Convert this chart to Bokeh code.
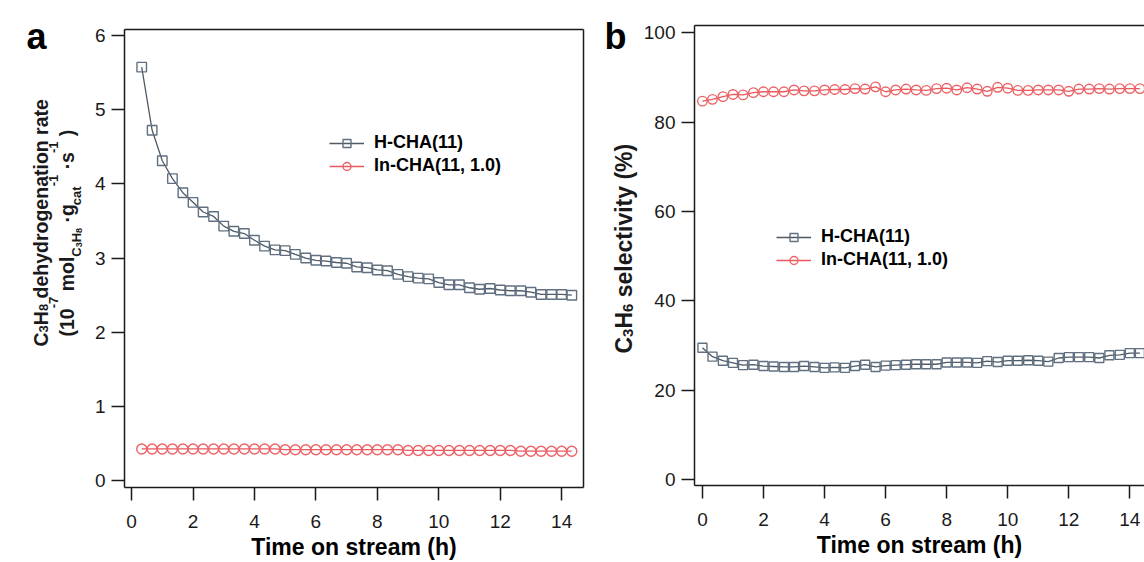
import math
from bokeh.plotting import figure
from bokeh.layouts import row
from bokeh.models import Range1d, FixedTicker, LinearAxis, Legend, LegendItem
from bokeh.core.properties import value
from bokeh.embed import file_html
from bokeh.resources import INLINE

# ---------------- data ----------------
time_a = [0.33, 0.67, 1.00, 1.33, 1.67, 2.00, 2.33, 2.67, 3.00, 3.33, 3.67, 4.00, 4.33, 4.67,
          5.00, 5.33, 5.67, 6.00, 6.33, 6.67, 7.00, 7.33, 7.67, 8.00, 8.33, 8.67, 9.00, 9.33,
          9.67, 10.00, 10.33, 10.67, 11.00, 11.33, 11.67, 12.00, 12.33, 12.67, 13.00, 13.33,
          13.67, 14.00, 14.33]
rate_h = [5.57, 4.72, 4.31, 4.07, 3.88, 3.75, 3.62, 3.56, 3.43, 3.36, 3.33, 3.24, 3.16, 3.11,
          3.10, 3.05, 3.00, 2.97, 2.96, 2.94, 2.93, 2.88, 2.87, 2.84, 2.83, 2.78, 2.75, 2.73,
          2.72, 2.67, 2.64, 2.64, 2.60, 2.58, 2.59, 2.57, 2.56, 2.56, 2.54, 2.51, 2.51, 2.51, 2.50]
rate_in = [0.43, 0.43, 0.43, 0.43, 0.43, 0.43, 0.43, 0.43, 0.43, 0.43, 0.43, 0.43, 0.43, 0.43,
           0.42, 0.42, 0.42, 0.42, 0.42, 0.42, 0.42, 0.42, 0.42, 0.42, 0.42, 0.42, 0.41, 0.41,
           0.41, 0.41, 0.41, 0.41, 0.41, 0.41, 0.41, 0.41, 0.41, 0.40, 0.40, 0.40, 0.40, 0.40, 0.40]

time_b = [0.00, 0.33, 0.67, 1.00, 1.33, 1.67, 2.00, 2.33, 2.67, 3.00, 3.33, 3.67, 4.00, 4.33,
          4.67, 5.00, 5.33, 5.67, 6.00, 6.33, 6.67, 7.00, 7.33, 7.67, 8.00, 8.33, 8.67, 9.00,
          9.33, 9.67, 10.00, 10.33, 10.67, 11.00, 11.33, 11.67, 12.00, 12.33, 12.67, 13.00,
          13.33, 13.67, 14.00, 14.33]
sel_h = [29.5, 27.5, 26.6, 26.1, 25.6, 25.7, 25.4, 25.3, 25.2, 25.2, 25.4, 25.2, 25.0, 25.1,
         25.0, 25.4, 25.7, 25.2, 25.5, 25.6, 25.7, 25.8, 25.8, 25.8, 26.2, 26.2, 26.2, 26.1,
         26.5, 26.3, 26.6, 26.6, 26.7, 26.6, 26.4, 27.2, 27.4, 27.4, 27.4, 27.2, 27.8, 27.9,
         28.3, 28.3]
sel_in = [84.7, 85.1, 85.7, 86.2, 86.1, 86.6, 86.8, 86.8, 86.8, 87.2, 87.0, 87.0, 87.2, 87.3,
          87.3, 87.5, 87.4, 87.9, 86.8, 87.2, 87.4, 87.2, 87.1, 87.5, 87.6, 87.2, 87.7, 87.4,
          86.9, 87.8, 87.6, 87.1, 87.1, 87.2, 87.2, 87.2, 86.9, 87.4, 87.4, 87.5, 87.4, 87.5,
          87.5, 87.5]

x_ticks = [0, 2, 4, 6, 8, 10, 12, 14]
ya_ticks = [0, 1, 2, 3, 4, 5, 6]
yb_ticks = [0, 20, 40, 60, 80, 100]
series_names = ["H-CHA(11)", "In-CHA(11, 1.0)"]
x_title = "Time on stream (h)"

# ---------------- style ----------------
GRAY_LINE = "#4e5a65"
GRAY_MARK = "#607080"
RED_LINE = "#e8585c"
RED_MARK = "#ec6266"
AX = "#1a1a1a"
FONT = "Liberation Sans"
H = 562

W = {'C': .722, 'H': .722, 'd': .611, 'e': .556, 'h': .611, 'y': .556, 'r': .389, 'o': .611,
     'g': .611, 'n': .611, 'a': .556, 't': .333, 'i': .278, ' ': .278, '(': .333, ')': .333,
     '-': .333, 'm': .889, 'l': .278, '\u00b7': .278, 'c': .556, 's': .556, 'v': .556, '%': .889}


def tw(s, size):
    return sum(W.get(c, .556) for c in s) * size


def no_align(p):
    try:
        p.frame_align = False
    except Exception:
        pass


def style_axis(ax, ticks, standoff):
    ax.ticker = FixedTicker(ticks=ticks)
    ax.axis_line_color = AX
    ax.axis_line_width = 1.5
    ax.major_tick_line_color = AX
    ax.major_tick_line_width = 1.5
    ax.major_tick_out = 13
    ax.major_tick_in = 0
    ax.minor_tick_line_color = None
    ax.major_label_text_font = FONT
    ax.major_label_text_font_size = "19px"
    ax.major_label_text_color = AX
    ax.major_label_standoff = standoff


def style_title(ax):
    ax.axis_label = x_title
    ax.axis_label_text_font = FONT
    ax.axis_label_text_font_style = "bold"
    ax.axis_label_text_font_size = "23px"
    ax.axis_label_text_color = "black"
    ax.axis_label_standoff = 3


def frame_axis(p, side):
    ax = LinearAxis(ticker=FixedTicker(ticks=[]), axis_line_color=AX, axis_line_width=1.5,
                    major_tick_line_color=None, minor_tick_line_color=None,
                    major_label_text_font_size="0px")
    p.add_layout(ax, side)


def make_fig(width, xr, yr, left, right, top, bottom):
    p = figure(width=width, height=H, x_range=Range1d(*xr), y_range=Range1d(*yr),
               output_backend="svg", toolbar_location=None,
               min_border_left=left, min_border_right=right,
               min_border_top=top, min_border_bottom=bottom)
    no_align(p)
    p.grid.visible = False
    p.outline_line_color = None
    p.background_fill_color = "white"
    p.border_fill_color = "white"
    return p


def label_fig(width):
    p = figure(width=width, height=H, x_range=Range1d(0, width), y_range=Range1d(0, H),
               output_backend="svg", toolbar_location=None, x_axis_location=None,
               y_axis_location=None, min_border=0, min_border_left=0, min_border_right=0,
               min_border_top=0, min_border_bottom=0)
    no_align(p)
    try:
        p.title = None
    except Exception:
        pass
    p.grid.visible = False
    p.outline_line_color = None
    p.border_fill_color = "white"
    p.background_fill_color = "white"
    return p


def vlabel(p, segs, xb, ystart):
    # rotated (reading upward) rich text; xb = baseline px, ystart = bottom px (screen coords)
    y = ystart
    for text, size, shift in segs:
        core = text.strip(" ")
        lead = len(text) - len(text.lstrip(" "))
        y -= tw(" " * lead, size)
        p.text(x=[xb + shift], y=[H - y], text=[core], angle=math.pi / 2,
               text_align="left", text_baseline="alphabetic",
               text_font=value(FONT), text_font_size=value(f"{size}px"),
               text_font_style="bold", text_color=AX)
        y -= tw(core, size)


def panel_letter(p, letter, px, py):
    p.text(x=[px], y=[H - py], text=[letter], text_align="left", text_baseline="alphabetic",
           text_font=value(FONT), text_font_size=value("36px"), text_font_style="bold",
           text_color="black")


def add_series(p, x, y, line_c, mark_c, marker, size):
    l = p.line(x, y, line_color=line_c, line_width=1.3)
    s = p.scatter(x, y, marker=marker, size=size, line_color=mark_c, fill_color=None,
                  line_width=1.4)
    return [l, s]


def add_legend(p, items, loc):
    leg = Legend(items=items, location=loc, orientation="vertical",
                 label_text_font=FONT, label_text_font_style="bold",
                 label_text_font_size="18px", label_text_color="black",
                 glyph_width=35, glyph_height=20, label_height=20, label_standoff=10,
                 spacing=2, padding=0, margin=0, border_line_color=None,
                 background_fill_alpha=0)
    p.add_layout(leg)


# ---------------- panel a ----------------
LA = 84
la = label_fig(LA)
S, s2 = 19.5, 13
vlabel(la, [("C", S, 0), ("3", s2, 3), ("H", S, 0), ("8", s2, 3),
            (" dehydrogenation rate", S, 0)], 40, 346)
vlabel(la, [("(10", S, 0), ("-7", s2, -13), (" mol", S, 0), ("C", s2, 10), ("3", 9, 12),
            ("H", s2, 10), ("8", 9, 12), (" \u00b7g", S, 0), ("cat", s2, 10),
            ("-1", s2, -13), (" \u00b7s", S, 0), ("-1", s2, -13), (" )", S, 0)], 66, 336)
panel_letter(la, "a", 26, 36)

xra = (-0.23, 14.71)
yra = (-0.089, 6.077)
pa = make_fig(600 - LA, xra, yra, 124 - LA, 17, 29, 74)
ra_h = add_series(pa, time_a, rate_h, GRAY_LINE, GRAY_MARK, "square", 9.5)
ra_i = add_series(pa, time_a, rate_in, RED_LINE, RED_MARK, "circle", 10)
style_axis(pa.xaxis[0], x_ticks, 14)
style_axis(pa.yaxis[0], ya_ticks, 6)
style_title(pa.xaxis[0])
frame_axis(pa, "above")
frame_axis(pa, "right")
add_legend(pa, [LegendItem(label=series_names[0], renderers=ra_h),
                LegendItem(label=series_names[1], renderers=ra_i)], (205, 311))

# ---------------- panel b ----------------
LB = 40
lb = label_fig(LB)
B = 23
vlabel(lb, [("C", B, 0), ("3", 15, 4), ("H", B, 0), ("6", 15, 4),
            (" selectivity (%)", B, 0)], 623 - 600, 353)
panel_letter(lb, "b", 604 - 600, 36)

xrb = (-0.26, 14.48)
yrb = (-1.34, 101.63)
pb = make_fig(544 - LB, xrb, yrb, 92 - LB, 0, 25, 77)
rb_h = add_series(pb, time_b, sel_h, GRAY_LINE, GRAY_MARK, "square", 9)
rb_i = add_series(pb, time_b, sel_in, RED_LINE, RED_MARK, "circle", 9.5)
style_axis(pb.xaxis[0], x_ticks, 14)
style_axis(pb.yaxis[0], yb_ticks, 6)
style_title(pb.xaxis[0])
frame_axis(pb, "above")
add_legend(pb, [LegendItem(label=series_names[0], renderers=rb_h),
                LegendItem(label=series_names[1], renderers=rb_i)], (82, 215))

layout = row(la, pa, lb, pb, spacing=0)
open("out.html", "w").write(file_html(layout, INLINE))
